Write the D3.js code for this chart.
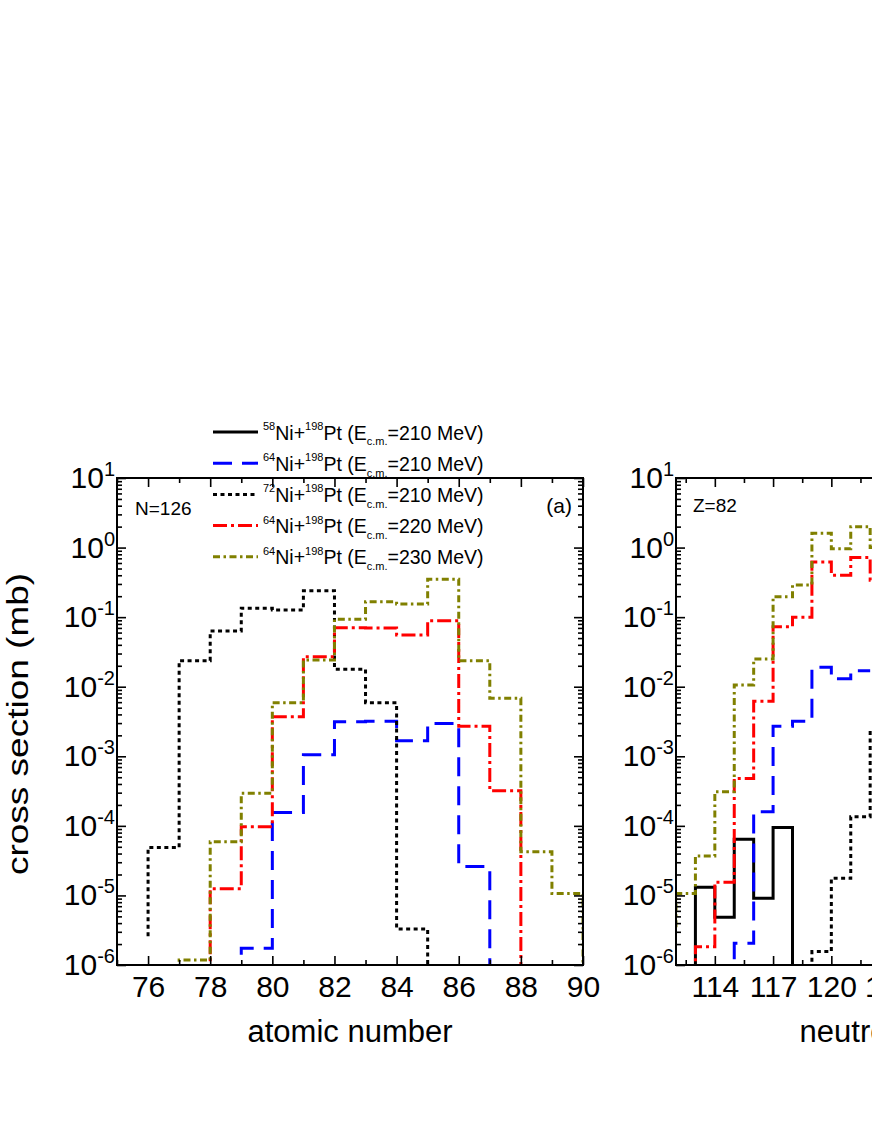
<!DOCTYPE html>
<html>
<head>
<meta charset="utf-8">
<script src="https://cdn.jsdelivr.net/npm/d3@7"></script>
<style>
  body { margin: 0; background: #fff; }
  svg { font-family: "Liberation Sans", Arial, sans-serif; }
</style>
</head>
<body>
<svg id="chart" width="872" height="1128"></svg>
<script>
// ---- data: panel (a), N=126, x = atomic number (step edges) ----
const ni72aX = [76, 77, 78, 79, 80, 81, 82, 83, 84, 85, 86];
const ni72aY = [2.6e-6, 4.9e-5, 0.0237, 0.063, 0.134, 0.127, 0.24, 0.0178, 0.0059, 3.3e-6, 1e-8];
const ni64a210X = [79, 80, 81, 82, 83, 84, 85, 86, 87, 88];
const ni64a210Y = [1.4e-6, 1.74e-6, 1.55e-4, 1.05e-3, 3.14e-3, 3.2e-3, 1.67e-3, 2.97e-3, 2.6e-5, 1e-8];
const ni64a220X = [78, 79, 80, 81, 82, 83, 84, 85, 86, 87, 88, 89];
const ni64a220Y = [1e-8, 1.25e-5, 9.7e-5, 3.7e-3, 0.027, 0.0705, 0.07, 0.0554, 0.089, 2.7e-3, 3.2e-4, 1e-8];
const ni64a230X = [77, 78, 79, 80, 81, 82, 83, 84, 85, 86, 87, 88, 89, 90, 91];
const ni64a230Y = [1e-8, 1.18e-6, 5.9e-5, 2.94e-4, 5.9e-3, 0.0242, 0.093, 0.167, 0.155, 0.35, 0.0237, 6.8e-3, 4.25e-5, 1.07e-5, 1e-8];

// ---- data: panel (b), Z=82, x = neutron number ----
const ni58bX = [113, 114, 115, 116, 117, 118, 119];
const ni58bY = [1e-8, 1.31e-5, 4.84e-6, 6.4e-5, 9.1e-6, 9.5e-5, 1e-8];
const ni64b210X = [115, 116, 117, 118, 119, 120, 121, 122];
const ni64b210Y = [1e-8, 2.05e-6, 1.6e-4, 2.7e-3, 3.2e-3, 0.019, 0.013, 0.017];
const ni72bX = [119, 120, 121, 122, 123];
const ni72bY = [1e-8, 1.56e-6, 1.76e-5, 1.35e-4, 2.4e-3];
const ni64b220X = [113, 114, 115, 116, 117, 118, 119, 120, 121, 122, 123];
const ni64b220Y = [1e-8, 1.83e-6, 1.55e-5, 4.8e-4, 6.2e-3, 0.073, 0.1, 0.62, 0.4, 0.72, 0.34];
const ni64b230X = [112, 113, 114, 115, 116, 117, 118, 119, 120, 121, 122, 123];
const ni64b230Y = [3.5e-6, 1.07e-5, 3.7e-5, 3.1e-4, 0.0106, 0.025, 0.197, 0.29, 1.6, 0.96, 2.0, 1.0];

// ---- axes / labels ----
const xTicksA = [76, 78, 80, 82, 84, 86, 88, 90];
const xMinorA = [75, 77, 79, 81, 83, 85, 87, 89];
const xTicksB = [114, 117, 120, 123, 126, 129, 132, 135];
const xMinorB = [112.5, 115.5, 118.5, 121.5, 124.5, 127.5, 130.5, 133.5];
const yDecades = [1e-6, 1e-5, 1e-4, 1e-3, 1e-2, 1e-1, 1e0, 1e1];
const yExp = ["-6", "-5", "-4", "-3", "-2", "-1", "0", "1"];

const legendMass = ["58", "64", "72", "64", "64"];
const legendEnergy = ["210", "210", "210", "220", "230"];

// styles, in legend order
const styles = [
  { color: "#000000", dash: null },
  { color: "#0000ff", dash: "19,10" },
  { color: "#000000", dash: "4,3.5" },
  { color: "#ff0000", dash: "14,4,3,4" },
  { color: "#808000", dash: "7,3.5,2.5,3.5" }
];

const svg = d3.select("#chart");
svg.append("rect").attr("width", 872).attr("height", 1128).attr("fill", "#fff");

const plotTop = 478, plotBottom = 965, plotW = 466;
const y = d3.scaleLog().domain([1e-6, 10]).range([plotBottom, plotTop]);
const yMinor = y.ticks().filter(v => !yDecades.some(d => Math.abs(d - v) / d < 1e-9));

function drawPanel(p) {
  const x = d3.scaleLinear().domain(p.domain).range([p.left, p.left + plotW]);
  const g = svg.append("g");
  const clipId = "clip-" + p.id;
  g.append("clipPath").attr("id", clipId)
    .append("rect")
    .attr("x", p.left).attr("y", plotTop)
    .attr("width", plotW).attr("height", plotBottom - plotTop);

  const line = d3.line()
    .x(d => x(d[0]))
    .y(d => y(d[1]))
    .curve(d3.curveStepBefore);

  p.series.forEach(s => {
    if (!s) return;
    g.append("path")
      .datum(d3.zip(s.x, s.y))
      .attr("clip-path", "url(#" + clipId + ")")
      .attr("fill", "none")
      .attr("stroke", s.style.color)
      .attr("stroke-width", 3)
      .attr("stroke-dasharray", s.style.dash)
      .attr("d", line);
  });

  // ticks, all pointing inward
  function ticks(axis, tr) {
    const a = g.append("g").attr("transform", tr).call(axis);
    a.select(".domain").remove();
    a.selectAll("line").attr("stroke-width", 1.6);
    return a;
  }
  const bottom = ticks(d3.axisBottom(x).tickValues(p.xTicks).tickSize(-9).tickSizeOuter(0)
      .tickPadding(10.7).tickFormat(d3.format("d")), "translate(0," + plotBottom + ")");
  bottom.attr("font-size", 30).attr("font-family", null);
  bottom.selectAll("text").attr("fill", "#000");
  ticks(d3.axisBottom(x).tickValues(p.xMinor).tickSize(-5).tickFormat(""), "translate(0," + plotBottom + ")");
  ticks(d3.axisTop(x).tickValues(p.xTicks).tickSize(-9).tickFormat(""), "translate(0," + plotTop + ")");
  ticks(d3.axisTop(x).tickValues(p.xMinor).tickSize(-5).tickFormat(""), "translate(0," + plotTop + ")");
  ticks(d3.axisLeft(y).tickValues(yDecades).tickSize(-9).tickFormat(""), "translate(" + p.left + ",0)");
  ticks(d3.axisLeft(y).tickValues(yMinor).tickSize(-5).tickFormat(""), "translate(" + p.left + ",0)");
  ticks(d3.axisRight(y).tickValues(yDecades).tickSize(-9).tickFormat(""), "translate(" + (p.left + plotW) + ",0)");
  ticks(d3.axisRight(y).tickValues(yMinor).tickSize(-5).tickFormat(""), "translate(" + (p.left + plotW) + ",0)");

  // y tick labels 10^n
  const yl = g.append("g");
  yDecades.forEach((v, i) => {
    const t = yl.append("text")
      .attr("x", p.left - 2)
      .attr("y", y(v) + 10)
      .attr("text-anchor", "end")
      .attr("font-size", 30);
    t.append("tspan").text("10");
    t.append("tspan").attr("font-size", 20).attr("dy", -12).text(yExp[i]);
  });

  // frame
  g.append("rect")
    .attr("x", p.left).attr("y", plotTop)
    .attr("width", plotW).attr("height", plotBottom - plotTop)
    .attr("fill", "none").attr("stroke", "#000").attr("stroke-width", 2);

  g.append("text")
    .attr("x", p.left + plotW / 2).attr("y", 1042)
    .attr("text-anchor", "middle").attr("font-size", 31)
    .text(p.xLabel);
}

drawPanel({
  id: "a", left: 117, domain: [75, 90],
  xTicks: xTicksA, xMinor: xMinorA, xLabel: "atomic number",
  series: [
    null,
    { x: ni64a210X, y: ni64a210Y, style: styles[1] },
    { x: ni72aX, y: ni72aY, style: styles[2] },
    { x: ni64a220X, y: ni64a220Y, style: styles[3] },
    { x: ni64a230X, y: ni64a230Y, style: styles[4] }
  ]
});

drawPanel({
  id: "b", left: 676, domain: [112, 136],
  xTicks: xTicksB, xMinor: xMinorB, xLabel: "neutron number",
  series: [
    { x: ni58bX, y: ni58bY, style: styles[0] },
    { x: ni64b210X, y: ni64b210Y, style: styles[1] },
    { x: ni72bX, y: ni72bY, style: styles[2] },
    { x: ni64b220X, y: ni64b220Y, style: styles[3] },
    { x: ni64b230X, y: ni64b230Y, style: styles[4] }
  ]
});

// panel annotations
svg.append("text").attr("x", 135).attr("y", 515).attr("font-size", 19).text("N=126");
svg.append("text").attr("x", 572).attr("y", 513).attr("font-size", 21)
  .attr("text-anchor", "end").text("(a)");
svg.append("text").attr("x", 693).attr("y", 512).attr("font-size", 19).text("Z=82");

// y axis title
svg.append("text")
  .attr("transform", "translate(27.5,724) scale(0.8,1) rotate(-90)")
  .attr("text-anchor", "middle")
  .attr("font-size", 37)
  .text("cross section (mb)");

// legend
const legend = svg.append("g");
legendMass.forEach((m, i) => {
  const ry = 432 + i * 31.2;
  legend.append("line")
    .attr("x1", 213).attr("x2", 258).attr("y1", ry).attr("y2", ry)
    .attr("stroke", styles[i].color).attr("stroke-width", 3)
    .attr("stroke-dasharray", styles[i].dash);
  const t = legend.append("text").attr("x", 263).attr("y", ry + 7.6).attr("font-size", 19.5);
  t.append("tspan").attr("font-size", 11).attr("dy", -9.7).text(m);
  t.append("tspan").attr("dy", 9.7).text("Ni+");
  t.append("tspan").attr("font-size", 11).attr("dy", -9.7).text("198");
  t.append("tspan").attr("dy", 9.7).text("Pt (E");
  t.append("tspan").attr("font-size", 11).attr("dy", 5.7).text("c.m.");
  t.append("tspan").attr("dy", -5.7).text("=" + legendEnergy[i] + " MeV)");
});
</script>
</body>
</html>
